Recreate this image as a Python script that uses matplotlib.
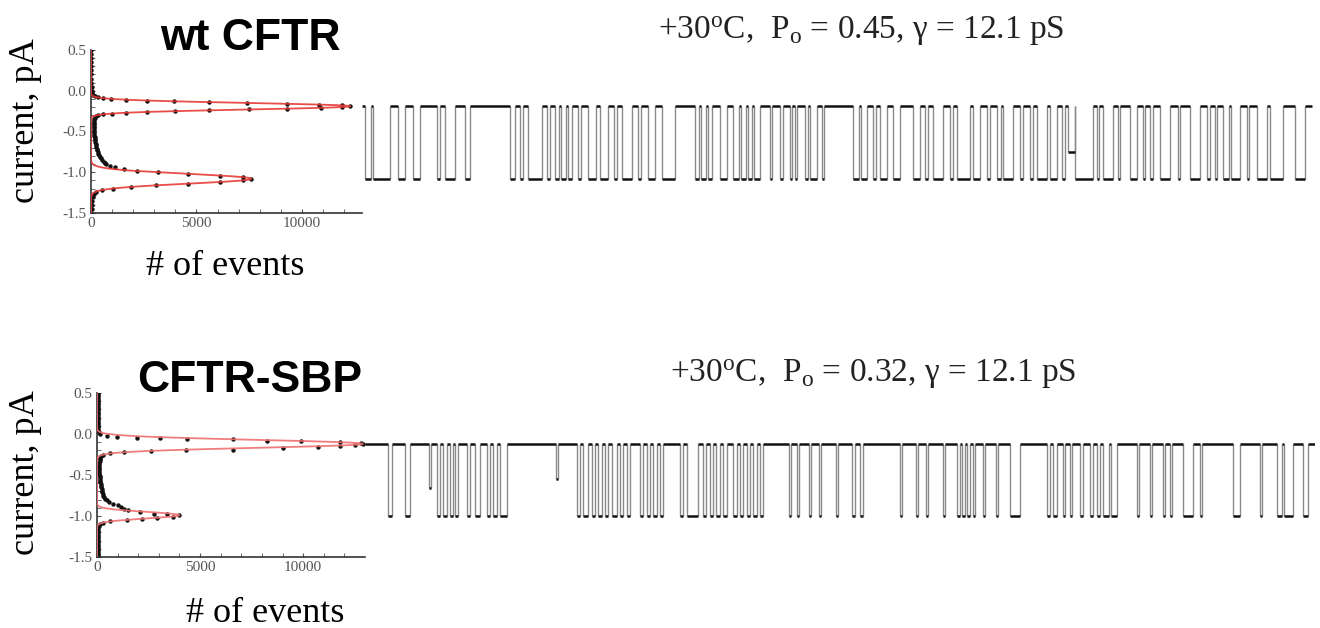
import numpy as np
import matplotlib.pyplot as plt

plt.rcParams['font.family'] = ['Liberation Serif', 'DejaVu Serif']
plt.rcParams['mathtext.fontset'] = 'custom'
plt.rcParams['mathtext.rm'] = 'Liberation Serif'
plt.rcParams['mathtext.it'] = 'Liberation Serif:italic'

# ---- all-points histograms (current in pA, number of events) ----
wt_cur = [0.50, 0.45, 0.40, 0.35, 0.30, 0.25, 0.20, 0.15, 0.10, 0.05, 0.00, -0.03, -0.05, -0.07,
          -0.08, -0.09, -0.10, -0.11, -0.12, -0.13, -0.14, -0.15, -0.16, -0.17, -0.18, -0.19,
          -0.20, -0.21, -0.22, -0.23, -0.24, -0.25, -0.26, -0.27, -0.28, -0.29, -0.30,
          -0.31, -0.33, -0.35, -0.37, -0.39, -0.41, -0.43, -0.45, -0.47, -0.49, -0.51, -0.53,
          -0.55, -0.57, -0.59, -0.61, -0.63, -0.65, -0.67, -0.69, -0.71, -0.73, -0.75, -0.77,
          -0.79, -0.81, -0.83, -0.85, -0.87, -0.89,
          -0.90, -0.92, -0.94, -0.96, -0.98, -1.00, -1.02, -1.04, -1.06, -1.08, -1.10, -1.12,
          -1.14, -1.16, -1.18, -1.20, -1.22, -1.24, -1.27, -1.30, -1.35, -1.40, -1.45, -1.50]
wt_cnt = [20, 20, 20, 20, 20, 20, 20, 20, 20, 30, 40, 60, 90, 180,
          320, 560, 950, 1650, 2650, 3950, 5600, 7400, 9300, 10800, 11900, 12300,
          11900, 10900, 9300, 7500, 5600, 4000, 2650, 1650, 980, 560, 320,
          230, 180, 160, 150, 140, 135, 135, 135, 140, 145, 150, 155,
          160, 170, 180, 190, 200, 215, 230, 250, 270, 290, 320, 350,
          390, 430, 480, 540, 610, 680,
          730, 900, 1150, 1550, 2200, 3200, 4600, 6100, 7200, 7600, 7200, 6100,
          4600, 3100, 1900, 1030, 500, 230, 120, 80, 50, 35, 25, 20]

sbp_cur = [0.50, 0.48, 0.46, 0.44, 0.42, 0.40, 0.38, 0.36, 0.34, 0.32, 0.30, 0.28, 0.26, 0.24,
           0.22, 0.20, 0.18, 0.16, 0.14, 0.12, 0.10, 0.08, 0.06, 0.04, 0.02,
           0.00, -0.02, -0.04, -0.045, -0.05, -0.06, -0.065, -0.08, -0.09, -0.10, -0.11, -0.12,
           -0.13, -0.15, -0.16, -0.17, -0.19, -0.20, -0.21, -0.22, -0.23, -0.25, -0.27, -0.29,
           -0.31, -0.33, -0.35, -0.37, -0.39, -0.41, -0.43, -0.45, -0.47, -0.49, -0.51, -0.53,
           -0.55, -0.57, -0.59, -0.61, -0.63, -0.65, -0.67, -0.69, -0.71, -0.73, -0.75, -0.77,
           -0.79, -0.81, -0.83, -0.85, -0.87, -0.89, -0.91, -0.93, -0.95, -0.97, -0.98, -0.99,
           -1.01, -1.02, -1.04, -1.05, -1.06, -1.08, -1.10, -1.12, -1.14,
           -1.16, -1.18, -1.20, -1.22, -1.24, -1.26, -1.28, -1.30, -1.32, -1.34, -1.36, -1.38,
           -1.40, -1.42, -1.44, -1.46, -1.48, -1.50]
sbp_cnt = [40, 40, 40, 40, 40, 40, 40, 40, 40, 40, 40, 40, 40, 40,
           40, 40, 40, 40, 40, 40, 40, 45, 50, 60, 90,
           150, 500, 970, 1940, 3050, 4370, 6600, 8250, 9900, 11800, 12800, 12900,
           12500, 11800, 10700, 9000, 6600, 4300, 2600, 1300, 630, 300, 200, 160,
           140, 130, 120, 110, 110, 110, 110, 110, 115, 120, 125, 130,
           140, 150, 160, 175, 190, 205, 220, 240, 260, 285, 310, 350,
           400, 480, 600, 800, 1000, 1150, 1300, 1500, 2100, 2750, 3400, 4000,
           3700, 2900, 2200, 1450, 650, 300, 150, 80, 60,
           40, 40, 40, 40, 40, 40, 40, 40, 40, 40, 40, 40,
           40, 40, 40, 40, 40, 40]

# Gaussian fit parameters: (amplitude, mean pA, sd pA)
wt_fit = [(12300, -0.19, 0.040), (7600, -1.08, 0.060)]
sbp_fit = [(12900, -0.12, 0.048), (4000, -0.99, 0.040)]

# ---- single-channel records: open intervals (ms) ----
wt_closed, wt_open = -0.19, -1.08
wt_opens = [(3, 9), (11, 28), (36, 43), (51, 58), (75, 78), (83, 93), (103, 108),
            (148, 153), (158, 161), (166, 180), (185, 188), (193, 197), (199, 204), (206, 210),
            (216, 219), (226, 234), (238, 246), (252, 255), (260, 270), (276, 279), (286, 293),
            (300, 313), (333, 337), (339, 344), (346, 350), (358, 365), (371, 377), (379, 384),
            (386, 390), (392, 398), (408, 410), (418, 421), (428, 430), (433, 435), (443, 446),
            (448, 455), (460, 462), (491, 497), (499, 505), (511, 514), (518, 525), (531, 538),
            (551, 558), (563, 566), (571, 581), (588, 591), (595, 608), (611, 618), (625, 628),
            (635, 639), (641, 651), (658, 661), (668, 671), (675, 685), (688, 695), (700, 703),
            (713, 731), (735, 737), (741, 751), (756, 758), (768, 775), (781, 783), (788, 791),
            (798, 808), (816, 818), (828, 838), (845, 848), (853, 855), (861, 867), (869, 878),
            (885, 887), (895, 905), (908, 921), (933, 943)]
wt_partial = [(706, 713, -0.75)]
wt_length = 950

sbp_closed, sbp_open = -0.12, -1.00
sbp_opens = [(23, 27), (40, 45), (72, 75), (78, 82), (85, 88), (90, 93), (102, 105), (110, 115),
             (122, 125), (128, 132), (135, 142), (212, 215), (218, 223), (227, 230), (233, 237),
             (240, 243), (247, 252), (255, 258), (262, 265), (275, 278), (282, 285), (288, 292),
             (295, 298), (315, 318), (322, 333), (338, 341), (345, 348), (351, 355), (358, 362),
             (368, 372), (375, 378), (382, 385), (388, 392), (395, 398), (424, 426), (432, 434),
             (444, 446), (454, 456), (471, 473), (487, 490), (495, 498), (535, 537), (551, 553),
             (561, 563), (578, 580), (592, 595), (597, 600), (602, 605), (608, 610), (618, 620),
             (631, 633), (645, 655), (682, 685), (688, 692), (698, 700), (705, 707), (715, 718),
             (725, 728), (732, 735), (738, 744), (746, 752), (772, 774), (785, 787), (798, 800),
             (805, 807), (818, 828), (835, 837), (868, 875), (895, 897), (912, 917), (919, 928),
             (938, 943)]
sbp_partial = [(64, 66, -0.66), (191, 193, -0.55)]
sbp_length = 950


def gauss_sum(y, params):
    return sum(a * np.exp(-(y - mu) ** 2 / (2 * s ** 2)) for a, mu, s in params)


def dwell_segments(opens, partial, length, closed, open_level):
    # horizontal dwell segments and vertical transitions of the idealised record
    events = sorted([(a, b, open_level) for a, b in opens] + list(partial))
    hs, vs = [], []
    t0 = 0
    for a, b, lv in events:
        hs.append((t0, a, closed))
        hs.append((a, b, lv))
        vs.append((a, lv, closed))
        vs.append((b, lv, closed))
        t0 = b
    hs.append((t0, length, closed))
    return hs, vs


W, H = 1320, 628
fig = plt.figure(figsize=(W / 100, H / 100), dpi=100)


def box(x0, y0, x1, y1):
    return [x0 / W, 1 - y1 / H, (x1 - x0) / W, (y1 - y0) / H]


def histogram(ax, cur, cnt, fit, xmax, red):
    yy = np.linspace(-1.5, 0.5, 600)
    ax.plot(cnt, cur, 'o', color='#111111', ms=3.2, mew=0, zorder=2)
    ax.plot(gauss_sum(yy, fit), yy, color=red, lw=1.3, alpha=0.9, zorder=3)
    ax.set_xlim(0, xmax)
    ax.set_ylim(-1.5, 0.5)
    for s in ['top', 'right']:
        ax.spines[s].set_visible(False)
    for s in ['left', 'bottom']:
        ax.spines[s].set_color('#333333')
        ax.spines[s].set_linewidth(1.2)
    ax.set_yticks([0.5, 0.0, -0.5, -1.0, -1.5])
    ax.set_yticklabels(['0.5', '0.0', '-0.5', '-1.0', '-1.5'])
    ax.set_xticks([0, 5000, 10000])
    ax.set_xticks(np.arange(1000, 13000, 1000), minor=True)
    ax.set_yticks(np.arange(-1.5, 0.5, 0.1), minor=True)
    ax.tick_params(which='both', direction='in', length=3, color='#555555', labelsize=11,
                   labelcolor='#555555', pad=3)
    ax.patch.set_alpha(0)


def trace(ax, hs, vs, length):
    ax.vlines([v[0] for v in vs], [v[1] for v in vs], [v[2] for v in vs],
              color='#8a8a8a', lw=1.0)
    ax.hlines([h[2] for h in hs], [h[0] for h in hs], [h[1] for h in hs],
              color='#111111', lw=1.8)
    ax.set_xlim(0, length)
    ax.set_ylim(-1.5, 0.5)
    ax.axis('off')


# wt CFTR
ax1 = fig.add_axes(box(91, 50, 362, 213))
histogram(ax1, wt_cur, wt_cnt, wt_fit, 12850, '#e53935')
ax2 = fig.add_axes(box(362, 50, 1318, 213))
hs, vs = dwell_segments(wt_opens, wt_partial, wt_length, wt_closed, wt_open)
trace(ax2, hs, vs, 956)

# CFTR-SBP
ax3 = fig.add_axes(box(97, 393, 365, 557))
histogram(ax3, sbp_cur, sbp_cnt, sbp_fit, 13000, '#ef6f6f')
ax4 = fig.add_axes(box(365, 393, 1315, 557))
hs, vs = dwell_segments(sbp_opens, sbp_partial, sbp_length, sbp_closed, sbp_open)
trace(ax4, hs, vs, 950)

# labels
fig.text(160 / W, 1 - 50 / H, 'wt CFTR', family=['Liberation Sans', 'DejaVu Sans'],
         weight='bold', fontsize=32, ha='left', va='baseline')
fig.text(137 / W, 1 - 392 / H, 'CFTR-SBP', family=['Liberation Sans', 'DejaVu Sans'],
         weight='bold', fontsize=32, ha='left', va='baseline')

fig.text(658 / W, 1 - 39 / H, r'+30$^{\rm o}$C,  P$_{\rm o}$ = 0.45, γ = 12.1 pS',
         fontsize=24, ha='left', va='baseline', color='#222222')
fig.text(670 / W, 1 - 382 / H, r'+30$^{\rm o}$C,  P$_{\rm o}$ = 0.32, γ = 12.1 pS',
         fontsize=24, ha='left', va='baseline', color='#222222')

fig.text(26 / W, 1 - 121 / H, 'current, pA', fontsize=26, rotation=90, ha='center', va='center')
fig.text(26 / W, 1 - 473 / H, 'current, pA', fontsize=26, rotation=90, ha='center', va='center')
fig.text(225 / W, 1 - 275 / H, '# of events', fontsize=26, ha='center', va='baseline')
fig.text(265 / W, 1 - 622 / H, '# of events', fontsize=26, ha='center', va='baseline')

fig.savefig('out.png', dpi=100)
